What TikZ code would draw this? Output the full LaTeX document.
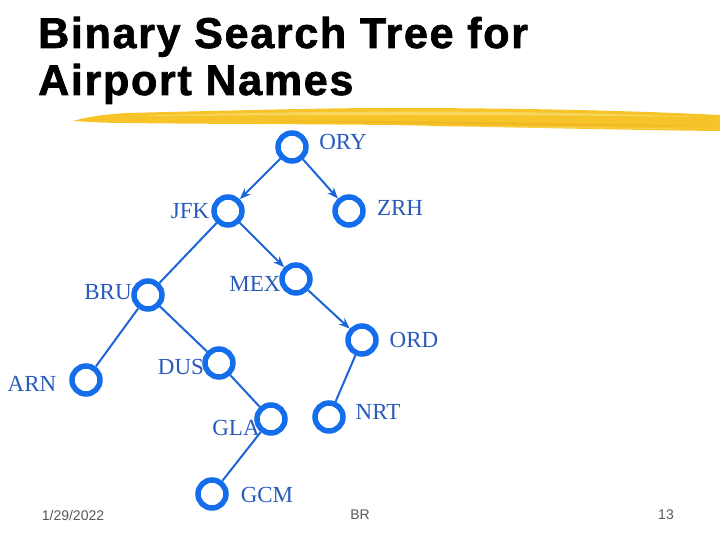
\documentclass[tikz,border=0pt]{standalone}
\usepackage{fontspec}
\setmainfont{Liberation Serif}
\newfontfamily\titlefont[LetterSpace=4,FakeBold=1.6]{Liberation Sans}
\newfontfamily\footfont{Liberation Sans}
\usetikzlibrary{arrows.meta}

\definecolor{nodeblue}{RGB}{20,110,235}
\definecolor{edgeblue}{RGB}{28,100,215}
\definecolor{textblue}{RGB}{40,90,185}
\definecolor{brushgold}{RGB}{246,196,40}
\definecolor{brushlight}{RGB}{250,224,120}
\definecolor{brushdark}{RGB}{236,176,30}

\begin{document}
\begin{tikzpicture}[x=1pt,y=-1pt,
    vert/.style={circle,draw=nodeblue,line width=5.5pt,minimum size=28pt,inner sep=0pt},
    lbl/.style={text=textblue,font=\fontsize{23}{23}\selectfont,inner sep=0pt},
    link/.style={edgeblue,line width=2pt},
    arr/.style={link,-{Stealth[length=11pt,width=8.5pt]}},
    ttl/.style={anchor=base west,inner sep=0pt,font=\titlefont\bfseries\fontsize{43}{43}\selectfont},
    foot/.style={text=black!65,font=\footfont\fontsize{14}{14}\selectfont,inner sep=0pt}]
    \useasboundingbox (0,0) rectangle (720,540);
    % title and brush line
    \node[ttl] (title1) at (38,48) {Binary Search Tree for};
    \node[ttl] (title2) at (38,95) {Airport Names};
    \fill[brushgold] (73,121) .. controls (90,116) and (110,114) .. (127,113)
        .. controls (250,110) and (330,108) .. (390,108)
        .. controls (500,108) and (620,110) .. (720,115) -- (720,131)
        .. controls (620,130) and (500,127) .. (390,125)
        .. controls (300,124) and (200,124) .. (127,123)
        .. controls (105,123) and (90,122) .. (73,121) -- cycle;
    \fill[brushlight,opacity=0.7] (130,116) .. controls (300,111) and (500,109) .. (700,117)
        .. controls (500,114) and (300,115) .. (130,116) -- cycle;
    \fill[brushdark,opacity=0.6] (260,121) .. controls (420,120) and (600,124) .. (715,126)
        .. controls (600,127) and (420,124) .. (260,121) -- cycle;
    \fill[brushlight,opacity=0.6] (400,126) .. controls (500,127) and (620,129) .. (718,129)
        .. controls (620,128) and (500,126) .. (400,126) -- cycle;
    % tree
    \node[vert] (ory) at (292,147) {};
    \node[vert] (jfk) at (228,211) {};
    \node[vert] (zrh) at (349,211) {};
    \node[vert] (mex) at (296,279) {};
    \node[vert] (bru) at (148,295) {};
    \node[vert] (ord) at (362,340) {};
    \node[vert] (arn) at (86,380) {};
    \node[vert] (dus) at (219,363) {};
    \node[vert] (gla) at (271,419) {};
    \node[vert] (nrt) at (329,417) {};
    \node[vert] (gcm) at (212,494) {};
    \node[lbl] (ory-l) at (343,142) {ORY};
    \node[lbl] (jfk-l) at (190,211) {JFK};
    \node[lbl] (zrh-l) at (400,208) {ZRH};
    \node[lbl] (mex-l) at (255,284) {MEX};
    \node[lbl] (bru-l) at (108,292) {BRU};
    \node[lbl] (ord-l) at (414,340) {ORD};
    \node[lbl] (arn-l) at (32,384) {ARN};
    \node[lbl] (dus-l) at (181,367) {DUS};
    \node[lbl] (gla-l) at (236,428) {GLA};
    \node[lbl] (nrt-l) at (378,412) {NRT};
    \node[lbl] (gcm-l) at (267,495) {GCM};
    \draw[arr] (ory) -- (jfk);
    \draw[arr] (ory) -- (zrh);
    \draw[arr] (jfk) -- (mex);
    \draw[arr] (mex) -- (ord);
    \draw[link] (jfk) -- (bru);
    \draw[link] (bru) -- (arn);
    \draw[link] (bru) -- (dus);
    \draw[link] (dus) -- (gla);
    \draw[link] (gla) -- (gcm);
    \draw[link] (ord) -- (nrt);
    % footer
    \node[foot] (date) at (73,515) {1/29/2022};
    \node[foot] (author) at (360,515) {BR};
    \node[foot] (page) at (666,515) {13};
\end{tikzpicture}
\end{document}
